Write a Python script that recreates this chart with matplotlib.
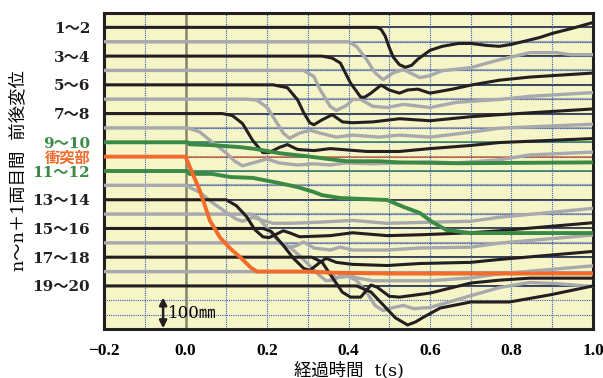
import matplotlib
matplotlib.use('Agg')
import matplotlib.pyplot as plt

# 各車両間の前後変位 (t: s, d: mm)
t01 = [-0.2, 0.47, 0.48, 0.49, 0.50, 0.51, 0.525, 0.54, 0.555, 0.57, 0.60, 0.63, 0.67, 0.70, 0.74, 0.77, 0.80, 0.83, 0.87, 0.90, 0.95, 1.0]
d01 = [0, 0, -7, -30, -70, -104, -130, -139, -132, -111, -80, -66, -56, -56, -63, -66, -59, -49, -35, -21, -3, 17]
t02 = [-0.2, 0.40, 0.42, 0.445, 0.465, 0.485, 0.51, 0.535, 0.555, 0.575, 0.60, 0.63, 0.70, 0.77, 0.845, 0.91, 0.945, 1.0]
d02 = [0, 0, -17, -63, -108, -132, -108, -97, -111, -125, -118, -101, -90, -63, -38, -38, -45, -45]
t03 = [-0.2, 0.335, 0.36, 0.38, 0.405, 0.43, 0.44, 0.455, 0.48, 0.50, 0.525, 0.545, 0.57, 0.60, 0.655, 0.70, 0.77, 0.845, 1.0]
d03 = [0, 0, -7, -24, -94, -143, -143, -129, -101, -118, -129, -118, -115, -129, -115, -101, -84, -73, -59]
t04 = [-0.2, 0.29, 0.315, 0.33, 0.355, 0.37, 0.395, 0.41, 0.43, 0.46, 0.495, 0.535, 0.60, 0.665, 0.77, 0.845, 1.0]
d04 = [0, 0, -21, -66, -125, -139, -122, -101, -101, -125, -129, -118, -129, -111, -101, -90, -77]
t05 = [-0.2, 0.215, 0.25, 0.275, 0.29, 0.305, 0.315, 0.335, 0.36, 0.385, 0.41, 0.46, 0.525, 0.60, 0.70, 0.77, 1.0]
d05 = [0, 0, -10, -52, -97, -132, -139, -122, -104, -129, -132, -129, -118, -125, -111, -104, -84]
t06 = [-0.2, 0.15, 0.175, 0.20, 0.225, 0.24, 0.255, 0.28, 0.305, 0.33, 0.37, 0.41, 0.475, 0.525, 0.60, 0.70, 0.77, 1.0]
d06 = [0, 0, -3, -28, -84, -118, -136, -118, -108, -118, -132, -125, -132, -125, -132, -115, -101, -87]
t07 = [-0.2, 0.09, 0.115, 0.14, 0.165, 0.19, 0.205, 0.23, 0.25, 0.275, 0.315, 0.355, 0.445, 0.525, 0.60, 0.70, 0.77, 1.0]
d07 = [0, 0, -7, -35, -94, -136, -136, -118, -108, -125, -129, -122, -132, -132, -122, -111, -101, -87]
t08 = [-0.2, 0.005, 0.035, 0.065, 0.10, 0.12, 0.14, 0.175, 0.20, 0.23, 0.275, 0.315, 0.355, 0.395, 0.46, 0.525, 0.60, 0.665, 0.77, 0.845, 1.0]
d08 = [0, 0, -14, -49, -87, -115, -132, -118, -108, -122, -129, -125, -129, -122, -125, -122, -118, -122, -111, -94, -84]
t09 = [-0.2, 0.005, 0.01, 0.065, 0.135, 0.175, 0.23, 0.30, 0.355, 0.395, 0.475, 0.525, 0.665, 1.0]
d09 = [0, 0, -7, -10, -17, -24, -38, -49, -59, -66, -66, -70, -73, -70]
t10 = [-0.2, 0.0, 0.035, 0.06, 0.085, 0.11, 0.135, 0.16, 0.175, 0.30, 0.355, 0.495, 1.0]
d10 = [0, 0, -118, -223, -282, -320, -351, -386, -400, -400, -404, -407, -407]
t11 = [-0.2, 0.005, 0.01, 0.065, 0.11, 0.165, 0.205, 0.23, 0.275, 0.315, 0.335, 0.38, 0.495, 0.535, 0.575, 0.605, 0.64, 0.70, 1.0]
d11 = [0, 0, -10, -10, -21, -24, -35, -42, -56, -73, -84, -94, -101, -125, -146, -177, -205, -216, -216]
t12 = [-0.2, 0.0, 0.01, 0.035, 0.065, 0.10, 0.125, 0.14, 0.165, 0.19, 0.215, 0.255, 0.315, 0.41, 0.495, 0.575, 0.70, 0.77, 1.0]
d12 = [0, 0, -7, -24, -59, -94, -118, -125, -111, -122, -132, -132, -129, -122, -132, -129, -125, -111, -80]
t13 = [-0.2, 0.10, 0.125, 0.15, 0.17, 0.19, 0.205, 0.22, 0.24, 0.255, 0.28, 0.355, 0.41, 0.495, 0.575, 0.70, 0.77, 1.0]
d13 = [0, 0, -21, -59, -104, -129, -132, -122, -108, -115, -129, -125, -115, -125, -122, -115, -108, -80]
t14 = [-0.2, 0.16, 0.18, 0.20, 0.225, 0.25, 0.27, 0.29, 0.315, 0.355, 0.38, 0.41, 0.495, 0.575, 0.70, 0.77, 1.0]
d14 = [0, 0, -14, -49, -90, -115, -111, -97, -118, -125, -115, -125, -125, -118, -115, -101, -73]
t15 = [-0.2, 0.19, 0.21, 0.24, 0.265, 0.29, 0.305, 0.33, 0.345, 0.37, 0.41, 0.495, 0.575, 0.70, 0.77, 1.0]
d15 = [0, 0, -10, -59, -104, -139, -146, -118, -104, -118, -125, -129, -122, -118, -108, -80]
t16 = [-0.2, 0.23, 0.255, 0.28, 0.305, 0.33, 0.345, 0.365, 0.39, 0.42, 0.46, 0.525, 0.60, 0.70, 0.77, 1.0]
d16 = [0, 0, -14, -45, -80, -115, -132, -129, -104, -122, -132, -132, -132, -122, -108, -80]
t17 = [-0.2, 0.31, 0.335, 0.36, 0.385, 0.405, 0.43, 0.455, 0.47, 0.50, 0.525, 0.60, 0.70, 0.77, 0.845, 1.0]
d17 = [0, 0, -17, -70, -122, -139, -139, -97, -104, -136, -139, -125, -90, -80, -73, -73]
t18 = [-0.2, 0.345, 0.37, 0.40, 0.42, 0.445, 0.465, 0.485, 0.51, 0.535, 0.56, 0.60, 0.70, 0.77, 0.845, 0.91, 1.0]
d18 = [0, 0, -21, -17, -31, -73, -118, -136, -125, -118, -129, -125, -84, -56, -38, -42, -52]
t19 = [-0.2, 0.42, 0.455, 0.485, 0.515, 0.545, 0.565, 0.585, 0.625, 0.70, 0.795, 0.895, 1.0]
d19 = [0, 0, -21, -66, -111, -136, -125, -108, -77, -56, -56, -31, 0]

times = [t01, t02, t03, t04, t05, t06, t07, t08, t09, t10, t11, t12, t13, t14, t15, t16, t17, t18, t19]
disps = [d01, d02, d03, d04, d05, d06, d07, d08, d09, d10, d11, d12, d13, d14, d15, d16, d17, d18, d19]

tick_pairs = [1, 3, 5, 7, 9, 10, 11, 13, 15, 17, 19]
tick_labels = ['1〜2', '3〜4', '5〜6', '7〜8', '9〜10', '衝突部', '11〜12',
               '13〜14', '15〜16', '17〜18', '19〜20']
x_ticks = [-0.2, 0.0, 0.2, 0.4, 0.6, 0.8, 1.0]
x_labels = ['−0.2', '0.0', '0.2', '0.4', '0.6', '0.8', '1.0']

BLACK = '#231f20'
GRAY = '#a7a9ac'
GREEN = '#3a8a45'
ORANGE = '#f26b2a'
MM_PER_ROW = 50.0  # 1目盛 = 50mm
N_ROWS = 22

fam = ['DejaVu Serif', 'Noto Sans CJK JP']
plt.rcParams['font.family'] = fam


def pair_color(k):
    if k in (9, 11):
        return GREEN
    if k == 10:
        return ORANGE
    return BLACK if k % 2 == 1 else GRAY


fig = plt.figure(figsize=(6.03, 3.78), dpi=100)
ax = fig.add_axes([0.1725, 0.1296, 0.8109, 0.836])
ax.set_facecolor('#f6f5c8')
ax.set_xlim(-0.2, 1.0)
ax.set_ylim(0, N_ROWS)

# グリッド
for x in [-0.1, 0.1, 0.2, 0.3, 0.4, 0.5, 0.6, 0.7, 0.8, 0.9]:
    ax.axvline(x, color='#2f5fb8', lw=0.8, ls=(0, (1, 1)), zorder=1.5)
for y in range(1, N_ROWS):
    ax.axhline(y, color='#2f5fb8', lw=0.8, ls=(0, (1, 1)), zorder=1.5)
ax.axvline(0.0, color='#85846c', lw=1.8, zorder=1.6)

# 基準線
for k in range(1, 20):
    base = N_ROWS - k
    c = pair_color(k)
    lw = 1.2 if c != GRAY else 1.6
    ax.axhline(base, color=c, lw=lw, zorder=1.2)

# 変位曲線
order = [k for k in range(1, 20) if pair_color(k) == GRAY] + \
        [k for k in range(1, 20) if pair_color(k) == BLACK] + [9, 11, 10]
for k in order:
    base = N_ROWS - k
    c = pair_color(k)
    y = [base + d / MM_PER_ROW for d in disps[k - 1]]
    lw = {BLACK: 2.2, GRAY: 2.4, GREEN: 2.8, ORANGE: 2.8}[c]
    ax.plot(times[k - 1], y, color=c, lw=lw, zorder=3,
            solid_joinstyle='round', solid_capstyle='round')

# 軸
ax.set_yticks([N_ROWS - k for k in tick_pairs])
ax.set_yticklabels(tick_labels, fontsize=11, fontweight='bold')
for lab, k in zip(ax.get_yticklabels(), tick_pairs):
    lab.set_color(pair_color(k) if k in (9, 10, 11) else '#231f20')
ax.set_xticks(x_ticks)
ax.set_xticklabels(x_labels, fontsize=12.5, fontweight='bold',
                   family=['Liberation Serif', 'DejaVu Serif'])
ax.tick_params(axis='both', length=0)
ax.tick_params(axis='y', pad=10)
ax.tick_params(axis='x', pad=10)
for s in ax.spines.values():
    s.set_linewidth(2.2)
    s.set_color('#231f20')

ax.set_xlabel('経過時間  t(s)', fontsize=12.5, labelpad=2)
ax.set_ylabel('n〜n＋1両目間  前後変位', fontsize=12.5, labelpad=4)

# スケール 100mm
ax.annotate('', xy=(-0.055, 0.05), xytext=(-0.055, 100 / MM_PER_ROW + 0.2),
            arrowprops=dict(arrowstyle='<|-|>', color='#231f20', lw=1.8,
                            mutation_scale=11, shrinkA=0, shrinkB=0), zorder=4)
ax.text(-0.043, 1.1, '100㎜', fontsize=12, va='center', ha='left', zorder=4)

fig.savefig('out.png', dpi=100)
